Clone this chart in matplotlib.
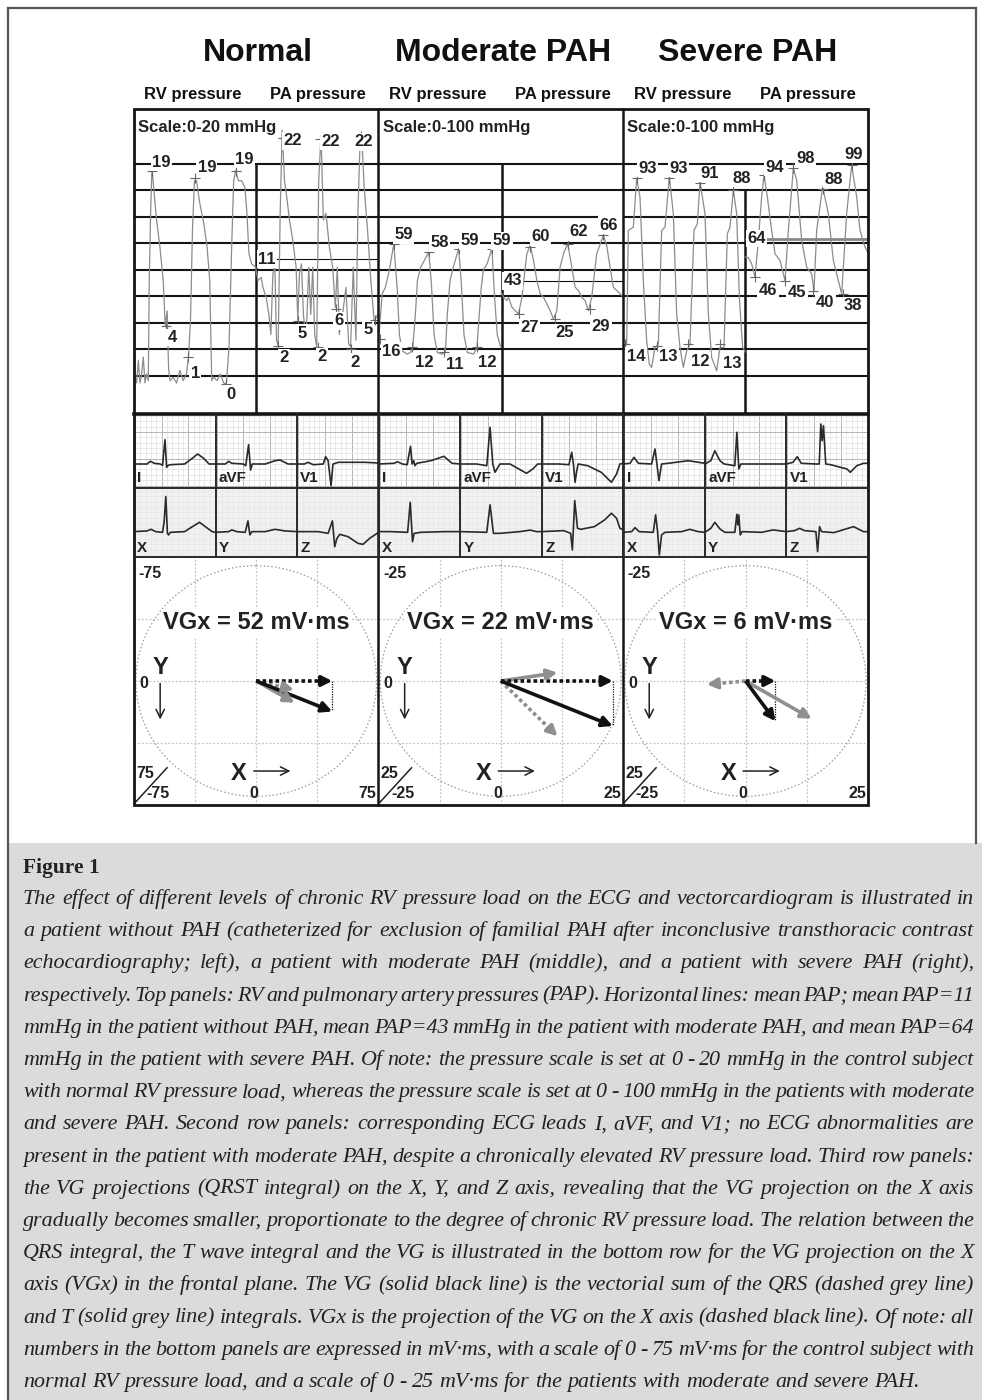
import matplotlib
matplotlib.use('Agg')
import matplotlib.pyplot as plt
import numpy as np
from matplotlib.patches import Rectangle, Ellipse

W, H = 982, 1400
fig = plt.figure(figsize=(W / 100, H / 100), dpi=100)

# ------------------------------------------------------------------ data
titles = ['Normal', 'Moderate PAH', 'Severe PAH']
sub_headers = ['RV pressure', 'PA pressure']
scale_labels = ['Scale:0-20 mmHg', 'Scale:0-100 mmHg', 'Scale:0-100 mmHg']
mean_pap = [11, 43, 64]

# pressure traces: time (arbitrary units across a panel), pressure (mmHg)
n_rv_t = [12, 20, 25, 30, 35, 40, 45, 50, 55, 58, 62, 66, 72, 80, 90, 100, 106, 112, 116, 120, 130, 140, 150,
          160, 170, 176, 182, 188, 194, 200, 210, 222, 232, 240, 246, 252, 262, 272, 282, 290, 298, 306, 312,
          318, 326, 336, 346, 352, 358, 366, 378]
n_rv_p = [0.8, 0.0, 2.0, 0.0, 0.8, 2.3, 0.0, 0.8, 0.2, 9.1, 15.1, 19.2, 17.1, 14.5, 12.1, 9.1, 5.1, 6.4, 1.4,
          0.2, 0.5, 0.0, 1.1, 0.2, 0.8, 2.3, 5.5, 13.6, 18.0, 18.0, 16.0, 14.2, 12.1, 9.1, 0.2, 0.5, 0.2, 0.8,
          0.0, -0.1, 3.2, 12.1, 18.0, 18.9, 18.0, 18.0, 17.4, 15.1, 11.5, 10.6, 10.3]
n_pa_t = [378, 385, 395, 400, 410, 418, 424, 430, 436, 441, 446, 452, 458, 465, 472, 480, 490, 500, 505, 510,
          516, 522, 530, 538, 544, 550, 556, 562, 568, 575, 582, 590, 600, 610, 618, 624, 630, 640, 650, 658,
          664, 672, 680, 686, 692, 697, 705, 715, 725, 735, 746]
n_pa_p = [10.3, 9.1, 9.4, 8.5, 7.6, 6.1, 4.3, 9.7, 10.3, 3.8, 3.3, 15.1, 22.5, 18.0, 16.5, 14.5, 12.7, 10.3,
          5.5, 9.7, 10.6, 6.1, 3.8, 10.3, 6.1, 10.3, 4.3, 3.2, 18.0, 22.1, 14.5, 15.1, 12.1, 10.3, 6.7, 10.3,
          4.3, 6.1, 8.5, 3.5, 3.2, 10.3, 3.8, 15.1, 21.0, 22.2, 17.4, 13.6, 9.1, 5.5, 6.1]

m_rv_t = [10, 20, 30, 42, 55, 65, 72, 80, 95, 105, 112, 120, 126, 136, 148, 160, 168, 176, 186, 200, 210, 216,
          224, 234, 250, 258, 266, 276, 295, 305, 312, 318, 324, 336, 350, 358, 366, 376]
m_rv_p = [18.9, 37.5, 40.3, 48.0, 58.8, 40.0, 20.0, 13.2, 11.8, 12.5, 14.7, 28.9, 43.2, 48.9, 52.0, 55.3, 42.0,
          20.0, 12.5, 11.8, 12.5, 28.9, 43.2, 48.9, 56.7, 42.0, 20.0, 12.5, 11.8, 14.7, 28.9, 40.3, 47.4, 50.5,
          56.7, 36.0, 20.0, 15.0]
m_pa_t = [378, 385, 395, 400, 410, 420, 430, 440, 455, 465, 475, 485, 495, 505, 515, 525, 535, 545, 555, 566,
          578, 590, 600, 610, 620, 630, 640, 650, 665, 685, 695, 705, 715, 725, 735, 745]
m_pa_p = [38.0, 36.0, 34.6, 36.0, 31.8, 30.3, 28.9, 36.0, 54.6, 58.1, 51.7, 43.2, 37.5, 36.0, 33.2, 30.3, 26.8,
          30.3, 48.9, 55.0, 58.8, 48.9, 40.3, 38.9, 36.0, 34.6, 30.3, 36.0, 54.6, 62.4, 58.0, 48.9, 40.3, 38.9,
          37.5, 36.0]

s_rv_t = [10, 20, 25, 40, 50, 60, 70, 80, 88, 95, 105, 115, 125, 135, 148, 160, 170, 180, 190, 200, 210, 222,
          232, 240, 255, 265, 275, 290, 300, 312, 322, 330, 340, 350, 358, 368, 376]
s_rv_p = [12.1, 13.7, 67.9, 69.5, 92.7, 83.9, 44.0, 15.3, 4.1, 2.6, 12.1, 13.7, 67.9, 69.5, 93.5, 75.9, 28.1,
          12.1, 2.6, 10.5, 13.7, 67.9, 71.1, 91.1, 75.9, 28.1, 7.3, 1.0, 12.1, 12.1, 66.3, 69.5, 87.1, 75.9,
          36.0, 12.1, 10.0]
s_pa_t = [376, 385, 395, 405, 415, 425, 432, 442, 455, 465, 480, 495, 505, 520, 530, 545, 560, 575, 582, 590,
          608, 625, 640, 655, 665, 680, 695, 710, 720, 735, 745]
s_pa_p = [55.2, 55.0, 52.0, 45.6, 63.2, 83.9, 94.3, 83.9, 67.9, 56.8, 53.6, 44.0, 67.9, 97.5, 91.9, 63.2,
          50.4, 47.2, 39.2, 67.9, 88.7, 75.9, 53.6, 44.0, 37.7, 75.9, 99.0, 83.9, 67.9, 60.0, 56.8]

# annotated pressure points (time, pressure at the + mark, printed value)
n_mark_t = [65, 195, 318, 108, 175, 290, 460, 572, 695, 505, 445, 565, 620, 665, 738]
n_mark_p = [18.9, 18.2, 18.9, 5.1, 2.3, -0.1, 21.8, 21.7, 22.0, 5.5, 3.3, 3.2, 6.6, 3.0, 5.6]
n_mark_lab = ['19', '19', '19', '4', '1', '0', '22', '22', '22', '5', '2', '2', '6', '2', '5']
m_mark_t = [15, 55, 110, 160, 205, 250, 305, 350, 465, 578, 685, 430, 540, 645]
m_mark_p = [18.2, 58.8, 14.7, 55.3, 12.5, 56.7, 14.7, 56.7, 57.5, 58.8, 62.4, 28.9, 26.8, 31.2]
m_mark_lab = ['16', '59', '12', '58', '11', '59', '12', '59', '60', '62', '66', '27', '25', '29']
s_mark_t = [50, 148, 240, 338, 15, 110, 205, 300, 432, 520, 695, 610, 405, 495, 580, 670]
s_mark_p = [92.7, 92.7, 90.3, 87.1, 13.7, 12.9, 13.7, 13.7, 94.3, 97.5, 99.0, 87.9, 45.6, 44.0, 39.2, 37.7]
s_mark_lab = ['93', '93', '91', '88', '14', '13', '12', '13', '94', '98', '99', '88', '46', '45', '40', '38']

# ECG leads: time (% of beat window), amplitude (arbitrary units)
nI_t = [0, 16, 20, 25, 32, 35, 38, 40, 42, 44.5, 62, 72, 78, 85, 92, 100]
nI_a = [0, 0, 2.7, 0.7, 0, -1.3, 24.3, -3.3, -1.3, -0.7, 0, 6, 10, 6, 0, 0]
naVF_t = [0, 12, 16, 20, 34, 37, 40.5, 43, 45, 61, 73, 79, 89, 100]
naVF_a = [0, 0, 2.7, 0.7, 0, -1.7, 19.3, -6, 0, 0, 3.3, 4, 0, 0]
nV1_t = [0, 9, 13, 20, 32, 35, 38, 41.6, 44, 50.6, 83, 100]
nV1_a = [0, 0, 1.7, -0.7, 0, 7.3, 3.3, -21.7, 0, 1.7, 1.7, 1]
mI_t = [0, 19, 23, 29, 35, 39, 41, 43, 44.4, 46.8, 64, 80, 90, 100]
mI_a = [0, 0.7, 2.3, 0, -0.7, 17.7, 0, 3.3, -1.7, 0.7, 3.3, 7.7, 0.7, 0]
maVF_t = [0, 20, 32.5, 36.6, 39.9, 42.7, 46.3, 48.8, 61, 81.3, 89, 95, 100]
maVF_a = [0, 0, -1.7, 36.7, 0, -8.3, -3.3, 0, 0, -9.3, -5, 0, 0]
mV1_t = [0, 20.8, 33.3, 36.7, 38.8, 40.8, 42.9, 44.6, 56.3, 72.9, 85.4, 91.7, 95.8, 100]
mV1_a = [0, 0, -0.7, 11.7, 0, -18.3, -6.7, 0, -1.7, -8.3, -18.3, -10, 0, 0.7]
sI_t = [0, 8.2, 13.1, 18.4, 34.7, 38.8, 41.2, 43.7, 46.9, 55.1, 79.6, 100]
sI_a = [0, 0.7, 6.7, 0.7, 0, 15, 0, -16.7, 0, 0.7, 3.3, 0.7]
saVF_t = [0, 7.3, 12.2, 18.4, 23.7, 36.7, 39.2, 41.6, 44.1, 61.2, 81.6, 100]
saVF_a = [0, 3.3, 13.3, 3.3, 0, -1.7, 31.7, -5, 0, 0, 0, 0]
sV1_t = [0, 8, 13.3, 18.1, 36.1, 40.2, 42.2, 43.8, 45.4, 48.2, 54.2, 74.3, 78.3, 86.3, 94.4, 100]
sV1_a = [0, 1.7, 7.3, 0.7, 0, 0, 40, 23.3, 38.3, 0, -0.7, -5, -8.3, -1.7, 0.7, 0.7]

nX_t = [0, 16, 21, 26.5, 35, 37, 39, 41, 42.4, 44.5, 62, 75, 80.3, 87.4, 95.8, 100]
nX_a = [0, 0.7, 2.3, 0, -0.7, 10, 35, -1.7, -3.3, -0.7, 0, 6.7, 9.3, 5, 0, -0.7]
nY_t = [0, 16, 20, 26, 36.4, 39.7, 42.1, 44.5, 60.7, 72.9, 85, 100]
nY_a = [-0.7, 0, 1.7, 0, -0.7, 10.7, -3.3, 0, 0, 2.3, 0.7, 0]
nZ_t = [0, 25.7, 38, 43.3, 46.1, 48.6, 52.2, 62.4, 74.7, 80.8, 89, 100]
nZ_a = [0, 0, -1.7, 10.7, -15, -7.3, -2.7, -5, -11.7, -12.7, -6.7, -0.7]
mX_t = [0, 15.3, 35.5, 38.7, 41.5, 43.5, 51.6, 79.8, 100]
mX_a = [0, 0, -0.7, 29.3, -10, -1.7, -0.7, 0, 0]
mY_t = [0, 32.5, 36.6, 40.7, 48.8, 73, 86, 93.6, 100]
mY_a = [0, -0.7, 26.7, -1.7, -1.7, 0, 1.5, 0, 0]
mZ_t = [0, 27, 35.4, 37.5, 40.4, 43.8, 47.9, 64.6, 77.1, 85.4, 91.7, 95.8, 100]
mZ_a = [0, 1, -1.7, -18.3, 31, 3.3, 2.3, 5, 11.7, 18.3, 13.3, 3.3, 1.7]
sX_t = [0, 10.2, 14.3, 19.2, 36.7, 39.6, 42, 44.1, 46.9, 51, 71.4, 81.6, 91.8, 100]
sX_a = [-0.7, 0, 4, 0, -0.7, 16.7, 0, -23.3, -3.3, -0.7, 0, 2.3, 0, -0.7]
sY_t = [0, 7.3, 12.2, 18.4, 24.5, 36.7, 39.2, 40.4, 41.6, 43.3, 45.7, 69.4, 83.7, 100]
sY_a = [-0.7, 3.3, 9.3, 2.7, -0.7, -0.7, 17.3, 6.7, 16.7, -3.3, 0, -0.7, 1.7, 0]
sZ_t = [0, 10, 16.1, 22.1, 36.1, 38.2, 40.6, 43, 58.2, 82.3, 94.4, 100]
sZ_a = [0, 1, 3.3, 1, 0, -20, 5, 0, -1, 5, 0, 0]

row1_leads = ['I', 'aVF', 'V1']
row2_leads = ['X', 'Y', 'Z']

# vectorcardiogram integrals in the frontal plane (mV·ms): X, Y (Y positive downwards)
vg_scale = [75, 25, 25]
vgx_values = [52, 22, 6]
vg_x = [46.6, 22.9, 6.1]
vg_y = [18.7, 9.2, 8.2]
qrs_x = [23.1, 11.6, -7.9]
qrs_y = [5.4, 11.3, 0.7]
t_x = [23.5, 11.6, 13.5]
t_y = [13.3, -1.7, 7.7]

caption_title = 'Figure 1'
caption_lines = [
    "The effect of different levels of chronic RV pressure load on the ECG and vectorcardiogram is illustrated in",
    "a patient without PAH (catheterized for exclusion of familial PAH after inconclusive transthoracic contrast",
    "echocardiography; left), a patient with moderate PAH (middle), and a patient with severe PAH (right),",
    "respectively. Top panels: RV and pulmonary artery pressures (PAP). Horizontal lines: mean PAP; mean PAP=11",
    "mmHg in the patient without PAH, mean PAP=43 mmHg in the patient with moderate PAH, and mean PAP=64",
    "mmHg in the patient with severe PAH. Of note: the pressure scale is set at 0 - 20 mmHg in the control subject",
    "with normal RV pressure load, whereas the pressure scale is set at 0 - 100 mmHg in the patients with moderate",
    "and severe PAH. Second row panels: corresponding ECG leads I, aVF, and V1; no ECG abnormalities are",
    "present in the patient with moderate PAH, despite a chronically elevated RV pressure load. Third row panels:",
    "the VG projections (QRST integral) on the X, Y, and Z axis, revealing that the VG projection on the X axis",
    "gradually becomes smaller, proportionate to the degree of chronic RV pressure load. The relation between the",
    "QRS integral, the T wave integral and the VG is illustrated in the bottom row for the VG projection on the X",
    "axis (VGx) in the frontal plane. The VG (solid black line) is the vectorial sum of the QRS (dashed grey line)",
    "and T (solid grey line) integrals. VGx is the projection of the VG on the X axis (dashed black line). Of note: all",
    "numbers in the bottom panels are expressed in mV\u00b7ms, with a scale of 0 - 75 mV\u00b7ms for the control subject with",
    "normal RV pressure load, and a scale of 0 - 25 mV\u00b7ms for the patients with moderate and severe PAH.",
]

# ------------------------------------------------------------------ layout helpers
SANS = 'Liberation Sans'
SERIF = 'Liberation Serif'


def pax(x0, y0, x1, y1, z=1):
    a = fig.add_axes([x0 / W, 1 - y1 / H, (x1 - x0) / W, (y1 - y0) / H], zorder=z)
    a.set_facecolor('none')
    a.axis('off')
    return a


bg = pax(0, 0, W, H, z=0)
bg.set_xlim(0, W)
bg.set_ylim(H, 0)

# figure frame and caption background
bg.add_patch(Rectangle((9, 843), W - 9, H - 843, fc='#dadbdd', ec='none'))
bg.plot([8, 8], [8, H], color='#555555', lw=1.6)
bg.plot([8, 976], [8, 8], color='#555555', lw=1.6)
bg.plot([976, 976], [8, 843], color='#555555', lw=1.6)

col_x = [134, 378.5, 623, 868]
col_mid = [(col_x[i] + col_x[i + 1]) / 2 for i in range(3)]
PT, PB = 109, 414          # pressure block
E1, E2, E3 = 414, 487.5, 557  # ECG rows
VB = 805                   # bottom of vector panels

# titles
for i, t in enumerate(titles):
    bg.text(col_mid[i] + 2, 53, t, ha='center', va='center', fontsize=23, fontweight='bold',
            family=SANS, color='#111111')
    bg.text(col_mid[i] - 63, 95, sub_headers[0], ha='center', va='center', fontsize=12,
            fontweight='bold', family=SANS, color='#111111')
    bg.text(col_mid[i] + 62, 95, sub_headers[1], ha='center', va='center', fontsize=12,
            fontweight='bold', family=SANS, color='#111111')

# ------------------------------------------------------------------ pressure panels
rv_t = [n_rv_t, m_rv_t, s_rv_t]
rv_p = [n_rv_p, m_rv_p, s_rv_p]
pa_t = [n_pa_t, m_pa_t, s_pa_t]
pa_p = [n_pa_p, m_pa_p, s_pa_p]
mk_t = [n_mark_t, m_mark_t, s_mark_t]
mk_p = [n_mark_p, m_mark_p, s_mark_p]
mk_l = [n_mark_lab, m_mark_lab, s_mark_lab]
# label offsets (pixels) relative to each + mark
mk_off = [
    [(10, -8), (12, -11), (9, -11), (6, 12), (7, 16), (5, 10), (10, 3), (11, 2), (3, 6), (4, 12), (6, 12),
     (4, 10), (3, 12), (4, 13), (-7, 10)],
    [(11, 12), (10, -9), (12, 15), (11, -9), (11, 12), (11, -8), (10, 15), (10, -8), (10, -10), (11, -12),
     (5, -10), (11, 14), (9, 14), (11, 18)],
    [(11, -10), (9, -10), (10, -10), (9, -12), (11, 12), (12, 11), (12, 17), (12, 19), (11, -8), (12, -10),
     (2, -11), (10, -9), (13, 13), (12, 12), (12, 12), (10, 12)],
]
ylims = [(-2.77, 24.38), (-13.7, 116.2), (-19.6, 125.8)]
xlims = [(12, 748), (9, 744), (9, 744)]
div_t = [380, 380, 376]
div_top = [0.821, 0.821, 0.734]
grid_fr = np.linspace(0.125, 0.821, 9)
mean_lab_t = [412, 412, 410]
mean_style = [dict(color='#111111', lw=0.8), dict(color='#111111', lw=0.8), dict(color='#888888', lw=2.0)]

for i in range(3):
    ax = pax(col_x[i], PT, col_x[i + 1], PB, z=2)
    ax.set_xlim(*xlims[i])
    ax.set_ylim(*ylims[i])
    for k, f in enumerate(grid_fr):
        xmax = 1.0
        if i == 1 and k == 6:
            xmax = 0.9
        ax.axhline(ylims[i][0] + f * (ylims[i][1] - ylims[i][0]), xmin=0, xmax=xmax,
                   color='#151515', lw=1.5, zorder=1)
    ax.axvline(div_t[i], ymin=0, ymax=div_top[i], color='#151515', lw=1.8, zorder=1)
    ax.plot([div_t[i], xlims[i][1]], [mean_pap[i]] * 2, zorder=1.5, solid_capstyle='butt', **mean_style[i])
    ax.plot(rv_t[i], rv_p[i], color='#8c8c8c', lw=0.9, zorder=2)
    ax.plot(pa_t[i], pa_p[i], color='#8c8c8c', lw=0.9, zorder=2)
    ax.plot(mk_t[i], mk_p[i], ls='none', marker='+', ms=7, mew=0.8, color='#666666', zorder=2.5)
    for tt, pp, lab, (dx, dy) in zip(mk_t[i], mk_p[i], mk_l[i], mk_off[i]):
        ax.annotate(lab, (tt, pp), xytext=(dx * 0.72, -dy * 0.72), textcoords='offset points',
                    ha='center', va='center', fontsize=12, fontweight='bold', family=SANS, color='#222222',
                    bbox=dict(boxstyle='square,pad=0.08', fc='white', ec='none'), zorder=3)
    ax.text(mean_lab_t[i], mean_pap[i], str(mean_pap[i]), ha='center', va='center', fontsize=12,
            fontweight='bold', family=SANS, color='#222222',
            bbox=dict(boxstyle='square,pad=0.08', fc='white', ec='none'), zorder=3)
    ax.text(0.018, 0.94, scale_labels[i], transform=ax.transAxes, ha='left', va='center', fontsize=12,
            fontweight='bold', family=SANS, color='#222222', zorder=3)

# ------------------------------------------------------------------ ECG panels
sub_x = np.linspace(col_x[0], col_x[3], 10)
row1 = [(nI_t, nI_a), (naVF_t, naVF_a), (nV1_t, nV1_a), (mI_t, mI_a), (maVF_t, maVF_a), (mV1_t, mV1_a),
        (sI_t, sI_a), (saVF_t, saVF_a), (sV1_t, sV1_a)]
row2 = [(nX_t, nX_a), (nY_t, nY_a), (nZ_t, nZ_a), (mX_t, mX_a), (mY_t, mY_a), (mZ_t, mZ_a),
        (sX_t, sX_a), (sY_t, sY_a), (sZ_t, sZ_a)]

# ECG paper (row 1) and light background (row 2)
minor = 26.7 / 5
for j in range(9):
    x0, x1 = sub_x[j], sub_x[j + 1]
    xs = np.arange(x0 + 1, x1, minor)
    for n, xv in enumerate(xs):
        big = (n % 5) == 0
        bg.plot([xv, xv], [E1, E2], color='#b4b4b4' if big else '#dedede', lw=0.7 if big else 0.45, zorder=1)
    ys = np.arange(E2 - 2, E1, -minor)
    for n, yv in enumerate(ys):
        big = (n % 5) == 0
        bg.plot([x0, x1], [yv, yv], color='#b4b4b4' if big else '#dedede', lw=0.7 if big else 0.45, zorder=1)
bg.add_patch(Rectangle((col_x[0], E2), col_x[3] - col_x[0], E3 - E2, fc='#f1f1f1', ec='none', zorder=0.5))
for j in range(9):
    x0, x1 = sub_x[j], sub_x[j + 1]
    for xv in np.arange(x0 + 1, x1, minor):
        bg.plot([xv, xv], [E2, E3], color='#e6e6e6', lw=0.4, zorder=0.8)
    for yv in np.arange(E3 - 2, E2, -minor):
        bg.plot([x0, x1], [yv, yv], color='#e6e6e6', lw=0.4, zorder=0.8)

for j in range(9):
    a1 = pax(sub_x[j], E1, sub_x[j + 1], E2, z=3)
    a1.set_xlim(0, 100)
    a1.set_ylim(-23.5, 50)
    a1.plot(row1[j][0], row1[j][1], color='#2a2a2a', lw=1.2, solid_joinstyle='round')
    a1.text(0.04, 0.03, row1_leads[j % 3], transform=a1.transAxes, ha='left', va='bottom', fontsize=11,
            fontweight='bold', family=SANS, color='#222222')
    a2 = pax(sub_x[j], E2, sub_x[j + 1], E3, z=3)
    a2.set_xlim(0, 100)
    a2.set_ylim(-25.3, 44)
    a2.plot(row2[j][0], row2[j][1], color='#2a2a2a', lw=1.2, solid_joinstyle='round')
    a2.text(0.04, 0.03, row2_leads[j % 3], transform=a2.transAxes, ha='left', va='bottom', fontsize=11,
            fontweight='bold', family=SANS, color='#222222')

# ------------------------------------------------------------------ vector panels
def arrow(ax, x, y, color, dashed=False, lw=2.6, hs=11):
    r = np.hypot(x, y)
    ux, uy = x / r, y / r
    sc = ax.get_xlim()[1]
    back = 0.09 * sc
    ls = (0, (1.0, 0.8)) if dashed else '-'
    ax.plot([0, x - ux * back * 0.6], [0, y - uy * back * 0.6], color=color, lw=lw, ls=ls,
            solid_capstyle='butt', dash_capstyle='butt', zorder=4)
    ax.annotate('', xy=(x, y), xytext=(x - ux * back, y - uy * back),
                arrowprops=dict(arrowstyle='-|>,head_length=0.55,head_width=0.28', color=color, lw=lw,
                                mutation_scale=hs, shrinkA=0, shrinkB=0), zorder=5)


for i in range(3):
    S = vg_scale[i]
    ax = pax(col_x[i], E3, col_x[i + 1], VB, z=3)
    ys = S * (VB - E3) / (col_x[i + 1] - col_x[i])
    ax.set_xlim(-S, S)
    ax.set_ylim(ys, -ys)
    for g in (-S / 2, 0, S / 2):
        ax.axvline(g, color='#c4c4c4', lw=0.9, ls=(0, (1.5, 1.5)), zorder=1)
        ax.axhline(g * ys / S, color='#c4c4c4', lw=0.9, ls=(0, (1.5, 1.5)), zorder=1)
    ax.add_patch(Ellipse((0, 0), 2 * S * 0.985, 2 * ys * 0.93, fill=False, ec='#9a9a9a', lw=0.9,
                         ls=(0, (1.2, 1.8)), zorder=1.5))
    # VGx projection
    ax.plot([vg_x[i], vg_x[i]], [0, vg_y[i]], color='#111111', lw=0.9, ls=(0, (1, 1)), zorder=3)
    arrow(ax, qrs_x[i], qrs_y[i], '#8f8f8f', dashed=True)
    arrow(ax, t_x[i], t_y[i], '#8f8f8f')
    arrow(ax, vg_x[i], 0, '#111111', dashed=True)
    arrow(ax, vg_x[i], vg_y[i], '#111111')
    ax.text(0, -0.47 * ys, 'VGx = %d mV\u00b7ms' % vgx_values[i], ha='center', va='center', fontsize=17,
            fontweight='bold', family=SANS, color='#222222',
            bbox=dict(boxstyle='square,pad=0.1', fc='white', ec='none'), zorder=6)
    tk = dict(fontsize=11.5, fontweight='bold', family=SANS, color='#222222', transform=ax.transAxes)
    ax.text(0.018, 0.935, '-%d' % S, ha='left', va='center', **tk)
    ax.text(0.04, 0.49, '0', ha='center', va='center', **tk)
    ax.text(0.045, 0.125, '%d' % S, ha='center', va='center', **tk)
    ax.text(0.1, 0.045, '-%d' % S, ha='center', va='center', **tk)
    ax.text(0.49, 0.045, '0', ha='center', va='center', **tk)
    ax.text(0.955, 0.045, '%d' % S, ha='center', va='center', **tk)
    ax.plot([0.005, 0.135], [0.01, 0.15], transform=ax.transAxes, color='#222222', lw=1.1)
    ax.text(0.107, 0.555, 'Y', ha='center', va='center', fontsize=17, fontweight='bold', family=SANS,
            color='#222222', transform=ax.transAxes)
    ax.annotate('', xy=(0.107, 0.345), xytext=(0.107, 0.49), xycoords='axes fraction',
                arrowprops=dict(arrowstyle='->,head_length=0.6,head_width=0.3', color='#222222', lw=1.1,
                                mutation_scale=10, shrinkA=0, shrinkB=0))
    ax.text(0.43, 0.128, 'X', ha='center', va='center', fontsize=17, fontweight='bold', family=SANS,
            color='#222222', transform=ax.transAxes)
    ax.annotate('', xy=(0.64, 0.137), xytext=(0.49, 0.137), xycoords='axes fraction',
                arrowprops=dict(arrowstyle='->,head_length=0.6,head_width=0.3', color='#222222', lw=1.1,
                                mutation_scale=10, shrinkA=0, shrinkB=0))

# ------------------------------------------------------------------ borders (overlay)
ov = pax(0, 0, W, H, z=10)
ov.set_xlim(0, W)
ov.set_ylim(H, 0)
K = '#151515'
ov.add_patch(Rectangle((col_x[0], PT), col_x[3] - col_x[0], VB - PT, fill=False, ec=K, lw=2.0))
ov.plot([col_x[0], col_x[3]], [E1, E1], color=K, lw=2.6)
for xv in col_x[1:3]:
    ov.plot([xv, xv], [PT, VB], color=K, lw=1.8)
for xv in sub_x[1:-1]:
    ov.plot([xv, xv], [E1, E3], color='#2a2a2a', lw=1.4)
ov.plot([col_x[0], col_x[3]], [E2, E2], color='#2a2a2a', lw=1.4)
ov.plot([col_x[0], col_x[3]], [E3, E3], color='#2a2a2a', lw=1.4)

# ------------------------------------------------------------------ caption (justified)
bg.text(23, 873, caption_title, ha='left', va='baseline', fontsize=15.5, fontweight='bold', family=SERIF,
        color='#222222')
renderer = fig.canvas.get_renderer()
X0, X1 = 23, 974
for li, line in enumerate(caption_lines):
    y = 904 + li * 32.2
    words = line.split(' ')
    last = li == len(caption_lines) - 1
    fs = 15.8
    while True:
        texts = [bg.text(0, y, w, ha='left', va='baseline', fontsize=fs, style='italic', family=SERIF,
                         color='#222222') for w in words]
        widths = [t.get_window_extent(renderer).width for t in texts]
        gap = (X1 - X0 - sum(widths)) / max(len(words) - 1, 1)
        if last:
            gap = fs * 0.25 * 100 / 72
        if gap >= fs * 0.12 * 100 / 72 or fs < 12:
            break
        for t in texts:
            t.remove()
        fs -= 0.2
    x = X0
    for t, wd in zip(texts, widths):
        t.set_x(x)
        x += wd + gap

fig.savefig('out.png', dpi=100)
